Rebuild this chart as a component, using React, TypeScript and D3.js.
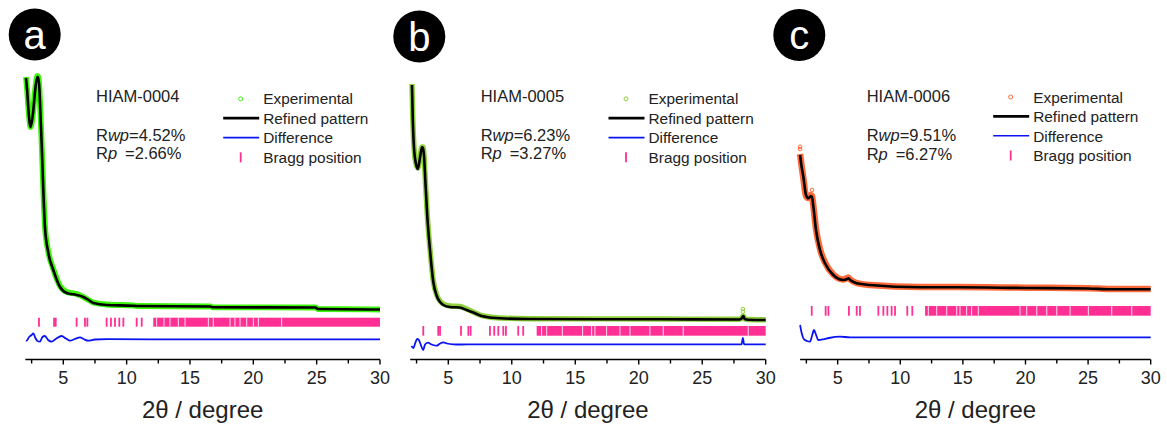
import React from "react";
import * as d3 from "d3";

type Pt = [number, number];

// ---- axis ----
const xDomain: Pt = [2, 30];
const xMajorTicks = [5, 10, 15, 20, 25, 30];
const xMinorTicks = [2.5, 7.5, 12.5, 17.5, 22.5, 27.5];
const xTitle = "2θ / degree";

// ---- legend ----
const legendLabels = ["Experimental", "Refined pattern", "Difference", "Bragg position"];

// ---- panel a : HIAM-0004 ----
const refinedA: Pt[] = [
  [2.05, 262], [2.15, 249], [2.25, 230], [2.42, 213], [2.6, 226], [2.8, 252], [2.95, 263], [3.03, 263],
  [3.12, 250], [3.2, 225], [3.29, 197], [3.43, 147], [3.55, 113], [3.82, 87], [4.21, 70], [4.74, 53],
  [5.27, 47], [6.06, 45], [6.58, 43], [7.0, 40], [7.37, 37], [8.42, 35], [10.5, 34.3], [10.8, 34],
  [16.6, 33.5], [16.8, 32.7], [24.9, 32.5], [25.1, 31], [30, 30.5],
];
const experimentalA: Pt[] = [
  [2.05, 263], [2.15, 249], [2.25, 231], [2.42, 213], [2.6, 226], [2.8, 253], [2.95, 264], [3.03, 263],
  [3.12, 250], [3.2, 226], [3.29, 197], [3.43, 148], [3.55, 114], [3.82, 88], [4.21, 71], [4.74, 54],
  [5.27, 48], [6.06, 46], [6.58, 43], [7.0, 40], [7.37, 37.5], [8.42, 35.5], [10.5, 34.5], [10.8, 34],
  [16.6, 33.5], [16.8, 32.7], [24.9, 32.5], [25.1, 31], [30, 30.5],
];
const differenceA: Pt[] = [
  [2.05, -0.5], [2.1, -0.7], [2.3, 3], [2.5, 5], [2.63, 6.7], [2.8, 2], [2.95, -1], [3.16, -1.7],
  [3.35, 3], [3.55, 4], [3.8, 0], [4.08, -1.7], [4.4, 1], [4.87, 4], [5.2, 1.5], [5.53, -0.7],
  [5.9, 1], [6.32, 2.7], [6.6, 1], [6.97, -0.7], [7.5, 0.5], [8.5, 0.8], [12, 0.7], [30, 0.7],
];
const braggA = [3.08, 4.27, 4.4, 6.05, 6.71, 6.9, 8.42, 8.76, 9.08, 9.42, 9.74, 10.79, 11.19];
const braggBandA: Pt = [12.1, 30];
const braggGapsA = [12.37, 12.95, 13.42, 14.08, 14.61, 16.45, 16.84, 18.16, 18.55, 18.95, 19.48, 20.0, 20.4, 22.24];

// ---- panel b : HIAM-0005 ----
const refinedB: Pt[] = [
  [2.14, 255], [2.2, 223], [2.3, 192], [2.46, 176], [2.6, 171], [2.77, 182], [2.93, 193], [3.0, 192],
  [3.09, 184], [3.19, 160], [3.35, 123], [3.56, 90], [3.82, 58], [4.09, 44], [4.35, 38], [4.61, 35],
  [5.13, 33], [5.9, 32.5], [6.45, 30], [6.97, 27.5], [7.5, 24.5], [8.02, 23], [9.07, 21.7], [11.4, 21],
  [21.9, 20.7], [27.9, 20.5], [28.1, 21.5], [28.23, 24], [28.35, 21], [28.6, 20.3], [30, 20],
];
const experimentalB: Pt[] = [
  [2.14, 256], [2.2, 224], [2.3, 193], [2.46, 176], [2.6, 172], [2.77, 183], [2.93, 193], [3.0, 193],
  [3.09, 185], [3.19, 160], [3.35, 124], [3.56, 91], [3.82, 59], [4.09, 45], [4.35, 39], [4.61, 36],
  [5.13, 34], [5.9, 33.5], [6.45, 31], [6.97, 28], [7.5, 25], [8.02, 23.5], [9.07, 22], [11.4, 21.3],
  [21.9, 21], [27.9, 20.8], [28.1, 22], [28.23, 24], [28.35, 21], [28.6, 20.5], [30, 20.3],
];
const experimentalOutliersB: Pt[] = [[28.2, 31], [28.2, 28.3]];
const differenceB: Pt[] = [
  [2.1, -6], [2.25, -8], [2.4, -3], [2.55, 1], [2.64, 0.7], [2.75, -2], [2.9, -7], [3.03, -10],
  [3.15, -5], [3.3, -3], [3.43, -2.7], [3.6, -4], [3.8, -5], [4.09, -5.7], [4.3, -4], [4.61, -2.3],
  [4.9, -3.5], [5.39, -4.3], [6, -4.5], [7, -4.3], [10, -4.3], [20, -4.4], [28.1, -4.4], [28.2, 2],
  [28.3, -4.3], [30, -4.3],
];
const braggB = [3.03, 4.21, 4.35, 6.0, 6.58, 6.76, 8.28, 8.62, 8.94, 9.33, 9.54, 10.51, 10.9];
const braggBandB: Pt = [11.96, 30];
const braggGapsB = [12.35, 12.75, 13.98, 15.58, 16.29, 16.55, 17.47, 18.52, 19.31, 20.88, 21.93, 23.5, 28.62];

// ---- panel c : HIAM-0006 ----
const refinedC: Pt[] = [
  [2.0, 185], [2.1, 175], [2.26, 163.3], [2.47, 145], [2.66, 141.7], [2.85, 144], [2.95, 143], [3.06, 133.3],
  [3.27, 110], [3.59, 90], [3.99, 76.7], [4.65, 65], [5.45, 60], [5.75, 61], [5.85, 61.7], [6.0, 60],
  [6.52, 56.7], [7.58, 55], [11.58, 52.7], [14.5, 52.7], [20, 52], [25, 51.5], [26.8, 50.7], [30, 50.7],
];
const experimentalC: Pt[] = [
  [2.0, 186], [2.1, 176], [2.26, 162], [2.47, 144], [2.66, 142], [2.85, 145], [2.95, 144], [3.06, 134],
  [3.27, 111], [3.59, 91], [3.99, 77.5], [4.65, 65.5], [5.45, 60.5], [5.75, 62], [5.85, 62.5], [6.0, 60.5],
  [6.52, 57], [7.58, 55], [11.58, 53], [14.5, 53], [20, 52.3], [25, 51.8], [26.8, 51], [30, 51],
];
const experimentalOutliersC: Pt[] = [[2.0, 193.3], [2.0, 191], [2.95, 150]];
const differenceC: Pt[] = [
  [2.0, 15], [2.13, 6.7], [2.25, 2], [2.39, 0], [2.55, -1], [2.79, -1.7], [2.95, 4], [3.11, 10],
  [3.25, 6], [3.46, 0], [3.86, 0.7], [4.3, 2], [5.19, 3.3], [5.99, 2.7], [7, 2.7], [30, 2.7],
];
const braggC = [2.93, 4.04, 4.26, 5.9, 6.52, 6.78, 8.25, 8.65, 8.97, 9.31, 9.58, 10.56, 10.96];
const braggBandC: Pt = [11.98, 30];
const braggGapsC = [12.24, 12.91, 13.71, 14.51, 14.77, 15.3, 15.7, 16.23, 19.56, 20.1, 20.9, 21.7, 22.5, 23.56, 25.02, 26.89, 28.49];

const FONT = "'Liberation Sans', Arial, Helvetica, sans-serif";
const PINK = "#ff2f93";
const BLUE = "#0a14f0";

const yScale = d3.scaleLinear().domain([0, 300]).range([340, 40]);

type PanelProps = {
  xRange: Pt;
  refined: Pt[];
  experimental: Pt[];
  outliers?: Pt[];
  difference: Pt[];
  bragg: number[];
  braggBand: Pt;
  braggGaps: number[];
  braggY: Pt;
  expColor: string;
  expWidth: number;
  letter: string;
  circle: Pt;
  name: string;
  rwp: string;
  rp: string;
  textX: number;
  textDy: number;
  legendX: number;
  legendDy: number;
};

function Panel(p: PanelProps) {
  const x = d3.scaleLinear().domain(xDomain).range(p.xRange);
  const line = d3
    .line<Pt>()
    .x((d) => x(d[0]))
    .y((d) => yScale(d[1]))
    .curve(d3.curveMonotoneX);
  const axisY = 359.5;
  const [yTop, yBot] = p.braggY;
  const lx = p.legendX; // legend marker centre
  const ld = p.legendDy;
  const rows = [104.3, 123.8, 143.3, 162.8].map((v) => v + ld);
  return (
    <g>
      {/* panel label */}
      <circle cx={p.circle[0]} cy={p.circle[1]} r={26} fill="#000" />
      <text x={p.circle[0]} y={p.circle[1] + 14} fill="#fff" fontSize={40} textAnchor="middle" fontFamily={FONT}>
        {p.letter}
      </text>

      {/* experimental */}
      <path d={line(p.experimental) || ""} fill="none" stroke={p.expColor} strokeWidth={p.expWidth} strokeLinejoin="round" />
      {(p.outliers || []).map((d, i) => (
        <circle key={i} cx={x(d[0])} cy={yScale(d[1])} r={1.8} fill="none" stroke={p.expColor} strokeWidth={1} />
      ))}
      {/* refined */}
      <path d={line(p.refined) || ""} fill="none" stroke="#000" strokeWidth={2.6} strokeLinejoin="round" />

      {/* bragg */}
      {p.bragg.map((b, i) => (
        <line key={i} x1={x(b)} x2={x(b)} y1={yScale(yTop)} y2={yScale(yBot)} stroke={PINK} strokeWidth={1.8} />
      ))}
      <rect
        x={x(p.braggBand[0])}
        y={yScale(yTop)}
        width={x(p.braggBand[1]) - x(p.braggBand[0])}
        height={yScale(yBot) - yScale(yTop)}
        fill={PINK}
      />
      {p.braggGaps.map((g, i) => (
        <line key={"g" + i} x1={x(g)} x2={x(g)} y1={yScale(yTop)} y2={yScale(yBot)} stroke="#fff" strokeWidth={1} opacity={0.85} />
      ))}

      {/* difference */}
      <path d={line(p.difference) || ""} fill="none" stroke={BLUE} strokeWidth={1.8} strokeLinejoin="round" />

      {/* x axis */}
      <line x1={x(xDomain[0])} x2={x(xDomain[1])} y1={axisY} y2={axisY} stroke="#000" strokeWidth={1.6} />
      {xMajorTicks.map((t) => (
        <g key={t}>
          <line x1={x(t)} x2={x(t)} y1={axisY} y2={axisY + 5} stroke="#000" strokeWidth={1.4} />
          <text x={x(t)} y={384} fontSize={18} textAnchor="middle" fontFamily={FONT} fill="#222">
            {t}
          </text>
        </g>
      ))}
      {xMinorTicks.map((t) => (
        <line key={t} x1={x(t)} x2={x(t)} y1={axisY} y2={axisY + 4} stroke="#000" strokeWidth={1.4} />
      ))}
      <text
        x={(x(xDomain[0]) + x(xDomain[1])) / 2}
        y={418}
        fontSize={24}
        textAnchor="middle"
        fontFamily={FONT}
        fill="#222"
      >
        {xTitle}
      </text>

      {/* name and R factors */}
      <g fontFamily={FONT} fontSize={16.5} fill="#222">
        <text x={p.textX} y={101.7 + p.textDy}>{p.name}</text>
        <text x={p.textX} y={141 + p.textDy}>
          R<tspan fontStyle="italic">wp</tspan>={p.rwp}
        </text>
        <text x={p.textX} y={159.3 + p.textDy}>
          R<tspan fontStyle="italic">p</tspan>
          <tspan x={p.textX + 29}>={p.rp}</tspan>
        </text>
      </g>

      {/* legend */}
      <g fontFamily={FONT} fontSize={15.4} fill="#222">
        <circle cx={lx} cy={rows[0] - 5.5} r={2} fill="none" stroke={p.expColor} strokeWidth={1} />
        <line x1={lx - 17.5} x2={lx + 18.5} y1={rows[1] - 5.7} y2={rows[1] - 5.7} stroke="#000" strokeWidth={2.8} />
        <line x1={lx - 17.5} x2={lx + 18.5} y1={rows[2] - 5.7} y2={rows[2] - 5.7} stroke={BLUE} strokeWidth={1.6} />
        <line x1={lx} x2={lx} y1={rows[3] - 10.5} y2={rows[3] - 0.5} stroke={PINK} strokeWidth={1.8} />
        {legendLabels.map((l, i) => (
          <text key={l} x={lx + 22.5} y={rows[i]}>
            {l}
          </text>
        ))}
      </g>
    </g>
  );
}

export default function App() {
  return (
    <svg width={1167} height={428} style={{ position: "absolute", left: 0, top: 0, background: "#fff" }}>
      <rect width={1167} height={428} fill="#fff" />
      <Panel
        xRange={[25.3, 380]}
        refined={refinedA}
        experimental={experimentalA}
        difference={differenceA}
        bragg={braggA}
        braggBand={braggBandA}
        braggGaps={braggGapsA}
        braggY={[22.3, 13.3]}
        expColor="#3cf50a"
        expWidth={5.8}
        letter="a"
        circle={[34.7, 34.5]}
        name="HIAM-0004"
        rwp="4.52%"
        rp="2.66%"
        textX={96}
        textDy={0}
        legendX={240.7}
        legendDy={0}
      />
      <Panel
        xRange={[410.2, 765.7]}
        refined={refinedB}
        experimental={experimentalB}
        outliers={experimentalOutliersB}
        difference={differenceB}
        bragg={braggB}
        braggBand={braggBandB}
        braggGaps={braggGapsB}
        braggY={[14, 4.3]}
        expColor="#8fd13c"
        expWidth={5.4}
        letter="b"
        circle={[419.3, 36.5]}
        name="HIAM-0005"
        rwp="6.23%"
        rp="3.27%"
        textX={480.7}
        textDy={0}
        legendX={626}
        legendDy={0}
      />
      <Panel
        xRange={[800.1, 1150.7]}
        refined={refinedC}
        experimental={experimentalC}
        outliers={experimentalOutliersC}
        difference={differenceC}
        bragg={braggC}
        braggBand={braggBandC}
        braggGaps={braggGapsC}
        braggY={[34, 24.3]}
        expColor="#ff6a3a"
        expWidth={6.5}
        letter="c"
        circle={[799.3, 35]}
        name="HIAM-0006"
        rwp="9.51%"
        rp="6.27%"
        textX={866.7}
        textDy={0.4}
        legendX={1010.7}
        legendDy={-1.8}
      />
    </svg>
  );
}
